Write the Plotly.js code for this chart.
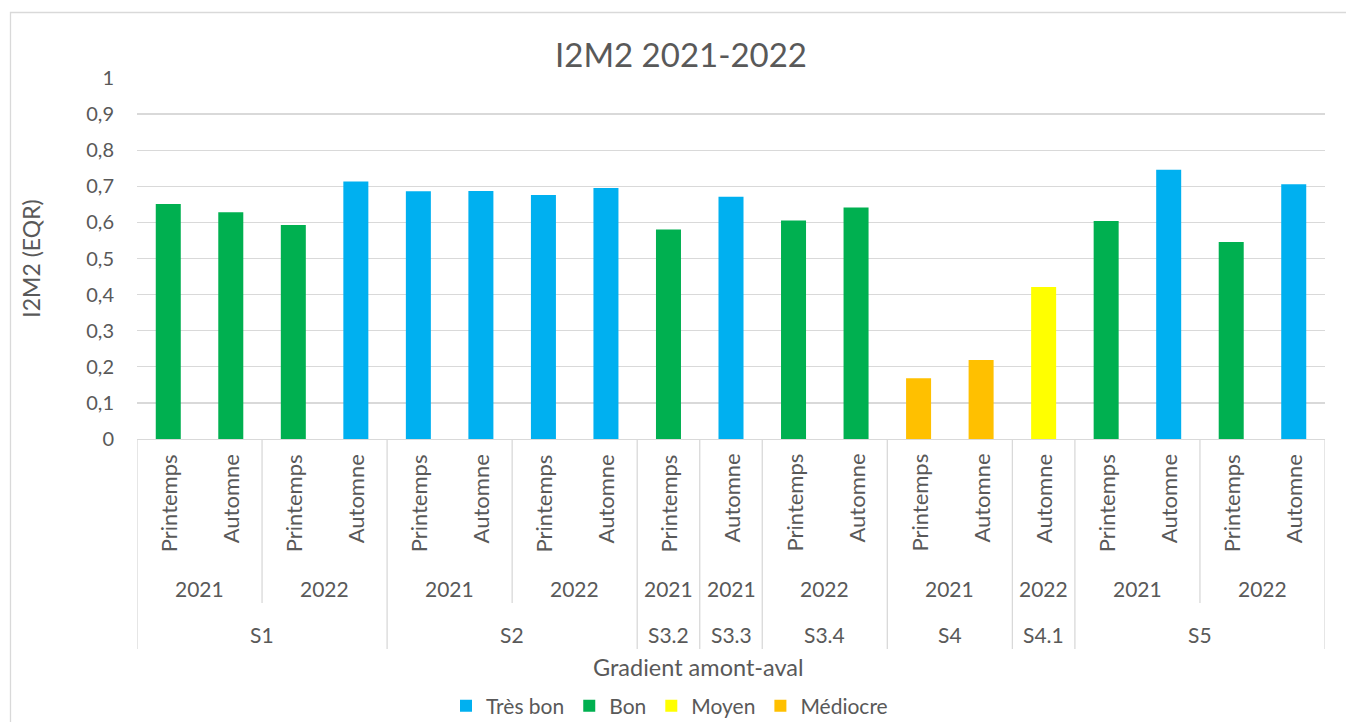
<!DOCTYPE html>
<html>
<head>
<meta charset="utf-8">
<script src="https://cdn.plot.ly/plotly-3.0.1.min.js"></script>
<style>
  html, body { margin: 0; padding: 0; background: #ffffff; }
  #chart { width: 1346px; height: 722px; }
</style>
</head>
<body>
<div id="chart"></div>
<script>
// ---- Data ----
const sites   = ['S1','S1','S1','S1','S2','S2','S2','S2','S3.2','S3.3','S3.4','S3.4','S4','S4','S4.1','S5','S5','S5','S5'];
const years   = ['2021','2021','2022','2022','2021','2021','2022','2022','2021','2021','2022','2022','2021','2021','2022','2021','2021','2022','2022'];
const seasons = ['Printemps','Automne','Printemps','Automne','Printemps','Automne','Printemps','Automne','Printemps','Automne','Printemps','Automne','Printemps','Automne','Automne','Printemps','Automne','Printemps','Automne'];
const values  = [0.651,0.628,0.593,0.713,0.686,0.687,0.676,0.695,0.580,0.671,0.605,0.641,0.168,0.219,0.421,0.604,0.746,0.546,0.706];
const classes = ['Bon','Bon','Bon','Très bon','Très bon','Très bon','Très bon','Très bon','Bon','Très bon','Bon','Bon','Médiocre','Médiocre','Moyen','Bon','Très bon','Bon','Très bon'];
const classOrder  = ['Très bon','Bon','Moyen','Médiocre'];
const classColors = ['#00B0F0','#00B050','#FFFF00','#FFC000'];
const yTickVals = [0,0.1,0.2,0.3,0.4,0.5,0.6,0.7,0.8,0.9,1];
const xTitle = 'Gradient amont-aval';

// ---- Style ----
const FONT = 'Lato, "Open Sans", sans-serif';
const TXT = '#595959';
const LINE = '#D9D9D9';
const PLOT_W = 1346 - 137 - 21;
const PLOT_H = 722 - 78 - 283;

// ---- Traces: one per quality class ----
const idx = values.map((v, i) => i);
const traces = classOrder.map((cls, k) => {
  const sel = idx.filter(i => classes[i] === cls);
  return {
    type: 'bar',
    name: cls,
    x: sel,
    y: sel.map(i => values[i]),
    width: 0.4,
    marker: { color: classColors[k] },
    hovertemplate: '%{y}<extra>' + cls + '</extra>'
  };
});

// ---- Multi-level category axis (season / year / site) ----
const annotations = [];
const shapes = [];

seasons.forEach((s, i) => {
  annotations.push({
    x: i, xref: 'x', y: 0, yref: 'paper', yshift: -13,
    xanchor: 'center', yanchor: 'top', textangle: -90,
    text: s, showarrow: false, font: { family: FONT, size: 22, color: TXT }
  });
});

function runs(keyFn) {
  const out = [];
  let start = 0;
  for (let i = 1; i <= values.length; i++) {
    if (i === values.length || keyFn(i) !== keyFn(start)) {
      out.push({ start: start, end: i - 1 });
      start = i;
    }
  }
  return out;
}
runs(i => sites[i] + '|' + years[i]).forEach(r => {
  annotations.push({
    x: (r.start + r.end) / 2, xref: 'x', y: 0, yref: 'paper', yshift: -149,
    xanchor: 'center', yanchor: 'middle',
    text: years[r.start], showarrow: false, font: { family: FONT, size: 21, color: TXT }
  });
});
runs(i => sites[i]).forEach(r => {
  annotations.push({
    x: (r.start + r.end) / 2, xref: 'x', y: 0, yref: 'paper', yshift: -195,
    xanchor: 'center', yanchor: 'middle',
    text: sites[r.start], showarrow: false, font: { family: FONT, size: 21, color: TXT }
  });
});
// x-axis title (placed as in the reference, slightly left of the plot centre)
annotations.push({
  x: (698 - 137) / PLOT_W, xref: 'paper', y: 0, yref: 'paper', yshift: -228,
  xanchor: 'center', yanchor: 'middle',
  text: xTitle, showarrow: false, font: { family: FONT, size: 23.5, color: TXT }
});

function vline(xv, depth) {
  shapes.push({
    type: 'line', xref: 'x', x0: xv, x1: xv,
    yref: 'paper', ysizemode: 'pixel', yanchor: 0, y0: 0, y1: -depth,
    line: { color: LINE, width: 1.3 }
  });
}
vline(-0.5, 210);
vline(values.length - 0.5, 210);
for (let i = 0; i < values.length - 1; i++) {
  if (sites[i] !== sites[i + 1]) vline(i + 0.5, 210);
  else if (years[i] !== years[i + 1]) vline(i + 0.5, 164);
}

// chart-area border (extends past right and bottom edges as in the reference)
shapes.push({
  type: 'rect', xref: 'paper', yref: 'paper',
  x0: (10.5 - 137) / PLOT_W, x1: 1.5, y0: -1.5, y1: (439 - 12.5) / PLOT_H,
  line: { color: LINE, width: 1.3 }, fillcolor: 'rgba(0,0,0,0)', layer: 'below'
});

const layout = {
  width: 1346, height: 722,
  margin: { l: 137, r: 21, t: 78, b: 283, pad: 0, autoexpand: false },
  paper_bgcolor: '#ffffff', plot_bgcolor: '#ffffff',
  separators: ', ',
  font: { family: FONT, color: TXT, size: 20 },
  title: {
    text: 'I2M2 2021-2022',
    font: { family: FONT, size: 33, color: TXT },
    x: 681 / 1346, xanchor: 'center', xref: 'container',
    y: 1 - 55 / 722, yref: 'container', yanchor: 'middle'
  },
  barmode: 'overlay',
  showlegend: true,
  legend: {
    orientation: 'h', x: (669.5 - 137) / PLOT_W, xanchor: 'center', xref: 'paper',
    y: -(706 - 439) / PLOT_H, yanchor: 'middle',
    font: { family: FONT, size: 21, color: TXT },
    itemwidth: 30, traceorder: 'normal'
  },
  xaxis: {
    range: [-0.5, values.length - 0.5],
    showticklabels: false, ticks: '', showgrid: false, zeroline: false,
    showline: true, linecolor: LINE, linewidth: 1.3,
    fixedrange: true
  },
  yaxis: {
    range: [0, 1],
    tickvals: yTickVals,
    showgrid: true, gridcolor: LINE, gridwidth: 1.3,
    zeroline: false, showline: false, ticks: '',
    ticklabelstandoff: 22,
    tickfont: { family: FONT, size: 20, color: TXT },
    fixedrange: true,
    title: { text: 'I2M2 (EQR)', font: { family: FONT, size: 23, color: TXT }, standoff: 39 }
  },
  annotations: annotations,
  shapes: shapes
};

Plotly.newPlot('chart', traces, layout, { displayModeBar: false, staticPlot: true });
</script>
</body>
</html>
